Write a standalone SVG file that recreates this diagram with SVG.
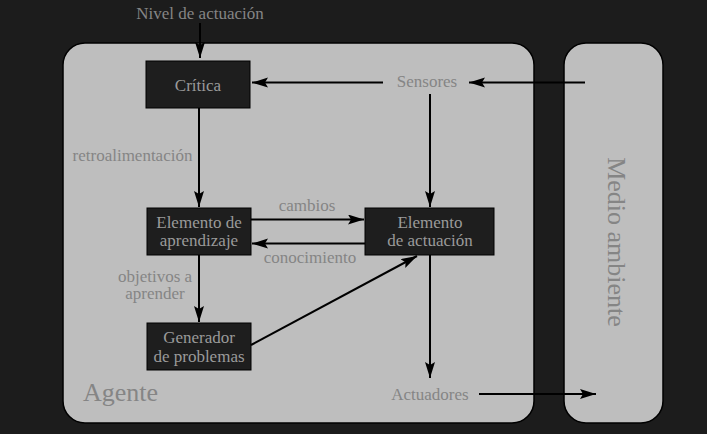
<svg xmlns="http://www.w3.org/2000/svg" width="707" height="434" viewBox="0 0 707 434">
<defs>
<style>
.bg{fill:#1c1c1c}
.region{fill:#bebebe;stroke:#000;stroke-width:1.5}
.box{fill:#1e1e1e;stroke:#000;stroke-width:1}
.ntext{font-size:17px;fill:#9a9a9a;text-anchor:middle}
.label{font-size:17px;fill:#858585;text-anchor:middle}
.big{font-size:26px;fill:#858585}
.edge{stroke:#000;stroke-width:2;fill:none;marker-end:url(#arrow)}
</style>
<marker id="arrow" markerUnits="userSpaceOnUse" markerWidth="18" markerHeight="12" refX="16" refY="5" orient="auto">
<path d="M0,0 L16,5 L0,10 L3,5 z" fill="#000"/>
</marker>
</defs>
<rect class="bg" x="0" y="0" width="707" height="434"/>
<g font-family="Liberation Serif, Times New Roman, serif">
<g id="agente">
<rect class="region" x="63" y="43" width="471" height="380" rx="22" ry="22"/>
<text class="big" x="83" y="401">Agente</text>
</g>
<g id="medio-ambiente">
<rect class="region" x="564" y="43" width="99" height="380" rx="22" ry="22"/>
<text class="big" transform="translate(608,242) rotate(90)" text-anchor="middle">Medio ambiente</text>
</g>
<g id="nivel">
<text class="label" x="200" y="19">Nivel de actuación</text>
</g>
<g id="sensores">
<text class="label" x="427" y="87">Sensores</text>
</g>
<g id="actuadores">
<text class="label" x="430" y="400">Actuadores</text>
</g>
<g id="critica">
<rect class="box" x="146" y="61" width="104" height="47"/>
<text class="ntext" x="198" y="91">Crítica</text>
</g>
<g id="elemento-aprendizaje">
<rect class="box" x="147" y="208" width="104" height="47"/>
<text class="ntext" x="199" y="228">Elemento de</text>
<text class="ntext" x="199" y="246">aprendizaje</text>
</g>
<g id="elemento-actuacion">
<rect class="box" x="365" y="208" width="129" height="47"/>
<text class="ntext" x="430" y="228">Elemento</text>
<text class="ntext" x="430" y="246">de actuación</text>
</g>
<g id="generador">
<rect class="box" x="147" y="323" width="104" height="47"/>
<text class="ntext" x="199" y="343">Generador</text>
<text class="ntext" x="199" y="362">de problemas</text>
</g>
<g id="connectors">
<line class="edge" x1="200" y1="23" x2="200" y2="58"/>
<line class="edge" x1="383" y1="82.5" x2="252" y2="82.5"/>
<line class="edge" x1="585" y1="82.5" x2="469" y2="82.5"/>
<line class="edge" x1="430" y1="94" x2="430" y2="207"/>
<line class="edge" x1="199" y1="108" x2="199" y2="207"/>
<line class="edge" x1="251" y1="219.5" x2="364" y2="219.5"/>
<line class="edge" x1="365" y1="243.5" x2="252" y2="243.5"/>
<line class="edge" x1="199" y1="255" x2="199" y2="322"/>
<line class="edge" x1="251" y1="345" x2="417" y2="256"/>
<line class="edge" x1="430" y1="255" x2="430" y2="378"/>
<line class="edge" x1="479" y1="394" x2="596" y2="394"/>
<text class="label" x="132.5" y="161">retroalimentación</text>
<text class="label" x="307" y="211">cambios</text>
<text class="label" x="310" y="263">conocimiento</text>
<text class="label" x="155" y="282">objetivos a</text>
<text class="label" x="155" y="299">aprender</text>
</g>
</g>
</svg>
